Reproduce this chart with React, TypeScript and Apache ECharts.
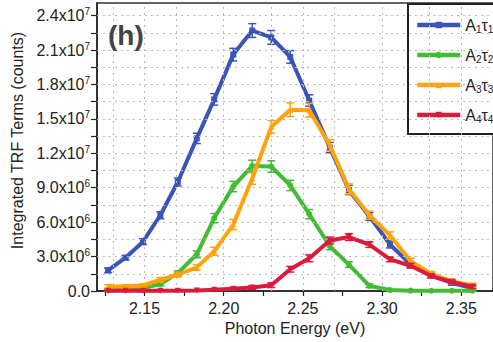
import React, { useEffect, useRef } from "react";
import * as echarts from "echarts";

const energy = [2.127, 2.138, 2.149, 2.160, 2.171, 2.183, 2.194, 2.206, 2.218, 2.230, 2.242, 2.254, 2.267, 2.279, 2.292, 2.305, 2.318, 2.331, 2.344, 2.357];

// values in units of 1e6 counts
const a1t1 = [1.8, 2.9, 4.3, 6.6, 9.5, 13.3, 16.7, 20.6, 22.7, 22.1, 20.4, 16.6, 12.5, 8.8, 6.5, 4.05, 2.3, 1.35, 0.7, 0.25];
const a2t2 = [0.05, 0.1, 0.25, 0.6, 1.55, 3.2, 6.35, 9.1, 10.9, 10.85, 9.2, 6.7, 3.9, 2.3, 0.45, 0.08, 0.03, 0.02, 0.02, 0.02];
const a3t3 = [0.39, 0.39, 0.48, 0.98, 1.42, 2.06, 3.46, 5.79, 9.8, 14.3, 15.8, 15.75, 12.7, 8.9, 6.6, 4.85, 2.6, 1.5, 0.85, 0.48];
const a4t4 = [0.02, 0.02, 0.02, 0.03, 0.03, 0.05, 0.1, 0.2, 0.3, 0.5, 1.9, 2.85, 4.4, 4.7, 4.05, 2.75, 2.2, 1.3, 0.8, 0.37];

const err1 = [0.2, 0.2, 0.25, 0.3, 0.35, 0.45, 0.5, 0.55, 0.6, 0.6, 0.55, 0.5, 0.45, 0.4, 0.35, 0.3, 0.25, 0.2, 0.2, 0.2];
const err2 = [0.1, 0.1, 0.1, 0.15, 0.2, 0.3, 0.4, 0.45, 0.5, 0.5, 0.45, 0.4, 0.3, 0.25, 0.15, 0.05, 0.05, 0.05, 0.05, 0.05];
const err3 = [0.15, 0.15, 0.15, 0.2, 0.2, 0.25, 0.35, 0.45, 0.5, 0.55, 0.6, 0.6, 0.5, 0.45, 0.35, 0.3, 0.25, 0.2, 0.2, 0.2];
const err4 = [0.05, 0.05, 0.05, 0.05, 0.05, 0.05, 0.05, 0.1, 0.15, 0.2, 0.25, 0.3, 0.3, 0.3, 0.25, 0.2, 0.2, 0.15, 0.15, 0.15];

const seriesNames = ["A1τ1", "A2τ2", "A3τ3", "A4τ4"];
const seriesColors = ["#3a55b6", "#43bb35", "#ffa20c", "#dc1a3c"];
const seriesSymbols = ["rect", "circle", "triangle", "path://M0,0 L10,0 L5,10 Z"];

const xTickValues = [2.125, 2.15, 2.175, 2.2, 2.225, 2.25, 2.275, 2.3, 2.325, 2.35];
const xLabelValues = [2.15, 2.2, 2.25, 2.3, 2.35];
const yTickValues = [0, 1.5e6, 3e6, 4.5e6, 6e6, 7.5e6, 9e6, 10.5e6, 12e6, 13.5e6, 15e6, 16.5e6, 18e6, 19.5e6, 21e6, 22.5e6, 24e6];
const yLabelValues = [0, 3e6, 6e6, 9e6, 12e6, 15e6, 18e6, 21e6, 24e6];

const FONT = "'Liberation Sans', Arial, sans-serif";

function fmtY(v: number): string {
  if (v === 0) return "0.0";
  const e = Math.floor(Math.log10(v) + 1e-9);
  const m = v / Math.pow(10, e);
  return m.toFixed(1) + "x10{sup|" + e + "}";
}

export default function App() {
  const ref = useRef<HTMLDivElement>(null);
  useEffect(() => {
    if (!ref.current) return;
    const chart = echarts.init(ref.current, null, { renderer: "svg" });
    const all = [a1t1, a2t2, a3t3, a4t4];
    const errs = [err1, err2, err3, err4];
    const gridStyle = { color: "#b8b8b8", type: [2, 4], width: 1 };
    const series: any[] = [
      {
        name: "grid",
        type: "line",
        data: [],
        silent: true,
        z: 1,
        markLine: {
          silent: true,
          symbol: "none",
          label: { show: false },
          lineStyle: gridStyle,
          data: [
            ...xTickValues.map((v) => ({ xAxis: v })),
            ...yTickValues.filter((v) => v > 0).map((v) => ({ yAxis: v })),
          ],
        },
      },
    ];
    all.forEach((vals, i) => {
      series.push({
        name: seriesNames[i],
        type: "line",
        data: energy.map((x, j) => [x, vals[j] * 1e6]),
        symbol: seriesSymbols[i],
        symbolSize: 6,
        showSymbol: true,
        color: seriesColors[i],
        lineStyle: { width: 4, color: seriesColors[i] },
        itemStyle: { color: seriesColors[i] },
        z: 2 + i * 2,
      });
      series.push({
        name: seriesNames[i],
        type: "custom",
        data: energy.map((x, j) => [x, (vals[j] - errs[i][j]) * 1e6, (vals[j] + errs[i][j]) * 1e6]),
        z: 3 + i * 2,
        renderItem: (params: any, api: any) => {
          const x = api.value(0);
          const lo = api.coord([x, api.value(1)]);
          const hi = api.coord([x, api.value(2)]);
          const w = 4;
          const st = { stroke: seriesColors[i], lineWidth: 1.5 };
          return {
            type: "group",
            children: [
              { type: "line", shape: { x1: lo[0], y1: lo[1], x2: hi[0], y2: hi[1] }, style: st },
              { type: "line", shape: { x1: lo[0] - w, y1: lo[1], x2: lo[0] + w, y2: lo[1] }, style: st },
              { type: "line", shape: { x1: hi[0] - w, y1: hi[1], x2: hi[0] + w, y2: hi[1] }, style: st },
            ],
          };
        },
      });
    });

    const option: any = {
      animation: false,
      backgroundColor: "#ffffff",
      textStyle: { fontFamily: FONT },
      grid: {
        left: 97,
        top: 3,
        right: -9,
        bottom: 51,
        show: true,
        borderColor: "#333",
        borderWidth: 1.5,
        containLabel: false,
      },
      legend: {
        left: 408,
        top: 4,
        orient: "vertical",
        data: seriesNames,
        itemWidth: 43,
        itemHeight: 8,
        itemGap: 11,
        padding: [11, 80, 10, 7],
        backgroundColor: "#fff",
        borderColor: "#222",
        borderWidth: 2,
        borderRadius: 0,
        lineStyle: { width: 4.5 },
        formatter: (name: string) => "{b|A}{sub|" + name[1] + "}{b|τ}{sub|" + name[3] + "}",
        textStyle: {
          fontFamily: FONT,
          fontSize: 16,
          color: "#222",
          height: 18,
          lineHeight: 18,
          rich: {
            b: { fontSize: 16, fontFamily: FONT, color: "#222", lineHeight: 18 },
            sub: { fontSize: 10, fontFamily: FONT, color: "#222", verticalAlign: "bottom", lineHeight: 18, padding: [9, 0, 0, 0] },
          },
        },
      },
      graphic: [
        {
          type: "text",
          left: 108,
          top: 21,
          style: { text: "(h)", fontFamily: FONT, fontWeight: "bold", fontSize: 28, fill: "#444" },
          z: 20,
        },
      ],
      xAxis: {
        type: "value",
        min: 2.12,
        max: 2.37,
        name: "Photon Energy (eV)",
        nameLocation: "middle",
        nameGap: 28,
        nameTextStyle: { fontFamily: FONT, fontSize: 16, color: "#222" },
        axisLine: { show: true, onZero: false, lineStyle: { color: "#222", width: 1.5 } },
        axisTick: { show: true, length: 5, customValues: xTickValues, lineStyle: { color: "#222", width: 1.2 } },
        axisLabel: {
          customValues: xLabelValues,
          fontFamily: FONT,
          fontSize: 16,
          color: "#222",
          margin: 9,
          formatter: (v: number) => v.toFixed(2),
        },
        splitLine: { show: false },
      },
      yAxis: {
        type: "value",
        min: 0,
        max: 2.51e7,
        name: "Integrated TRF Terms (counts)",
        nameLocation: "middle",
        nameGap: 70,
        nameTextStyle: { fontFamily: FONT, fontSize: 16, color: "#222", padding: [0, 0, 0, 13] },
        axisLine: { show: true, lineStyle: { color: "#222", width: 1.5 } },
        axisTick: { show: true, length: 6, customValues: yTickValues, lineStyle: { color: "#222", width: 1.2 } },
        axisLabel: {
          customValues: yLabelValues,
          fontFamily: FONT,
          fontSize: 16,
          color: "#222",
          margin: 7,
          formatter: (v: number) => fmtY(v),
          rich: { sup: { fontSize: 10, fontFamily: FONT, color: "#222", verticalAlign: "top", padding: [0, 0, 8, 0] } },
        },
        splitLine: { show: false },
      },
      series,
    };
    chart.setOption(option);
    return () => chart.dispose();
  }, []);
  return <div ref={ref} style={{ width: 493, height: 342, position: "fixed", left: 0, top: 0 }} />;
}
